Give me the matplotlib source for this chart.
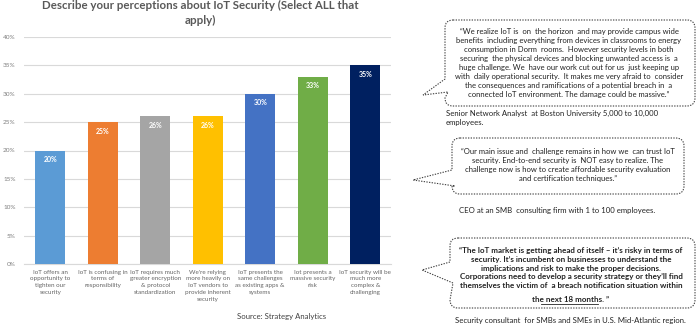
import matplotlib
matplotlib.use("Agg")
import matplotlib.pyplot as plt
from matplotlib.path import Path
from matplotlib.patches import PathPatch

plt.rcParams['font.family'] = ['Lato', 'DejaVu Sans']

# data
categories = [
    "IoT offers an\nopportunity to\ntighten our\nsecurity",
    "IoT is confusing in\nterms of\nresponsibility",
    "IoT requires much\ngreater encryption\n& protocol\nstandardization",
    "We're relying\nmore heavily on\nIoT vendors to\nprovide inherent\nsecurity",
    "IoT presents the\nsame challenges\nas existing apps &\nsystems",
    "Iot presents a\nmassive security\nrisk",
    "IoT security will be\nmuch more\ncomplex &\nchallenging",
]
values = [20, 25, 26, 26, 30, 33, 35]
bar_colors = ["#5B9BD5", "#ED7D31", "#A5A5A5", "#FFC000", "#4472C4", "#70AD47", "#002060"]
yticks = [0, 5, 10, 15, 20, 25, 30, 35, 40]

quotes = [
    "\u201cWe realize IoT is  on  the horizon  and may provide campus wide\n"
    "benefits  including everything from devices in classrooms to energy\n"
    "consumption in Dorm  rooms.  However security levels in both\n"
    "securing  the physical devices and blocking unwanted access is  a\n"
    "huge challenge. We  have our work cut out for us  just keeping up\n"
    "with  daily operational security.  It makes me very afraid to  consider\n"
    "the consequences and ramifications of a potential breach in  a\n"
    "connected IoT environment. The damage could be massive.\u201d",
    "\u201cOur main issue and  challenge remains in how we  can trust IoT\n"
    "security. End-to-end security is  NOT easy to realize. The\n"
    "challenge now is how to create affordable security evaluation\n"
    "and certification techniques.\u201d",
    "\u201cThe IoT market is getting ahead of itself \u2013 it\u2019s risky in terms of\n"
    "security. It\u2019s incumbent on businesses to understand the\n"
    "implications and risk to make the proper decisions.\n"
    "Corporations need to develop a security strategy or they\u2019ll find\n"
    "themselves the victim of  a breach notification situation within",
]
quote3_last = "the next 18 months. \u201d"
captions = [
    "Senior Network Analyst  at Boston University 5,000 to 10,000\nemployees.",
    "CEO at an SMB  consulting firm with 1 to 100 employees.",
    "Security consultant  for SMBs and SMEs in U.S. Mid-Atlantic region.",
]

W, H = 697, 328
fig = plt.figure(figsize=(W / 100, H / 100), dpi=100)

def fx(px):
    return px / W

def fy(py):
    return 1 - py / H

# bar chart
ax = fig.add_axes([fx(24), fy(264), fx(391.5) - fx(24), fy(37) - fy(264)])
x = range(len(values))
bars = ax.bar(x, values, width=0.58, color=bar_colors, zorder=3)
ax.set_xlim(-0.5, len(values) - 0.5)
ax.set_ylim(0, 40)
ax.set_yticks(yticks)
ax.set_yticklabels([f"{v}%" for v in yticks], fontsize=4.6, color="#7F7F7F")
ax.set_xticks(list(x))
ax.set_xticklabels(categories, fontsize=4.5, color="#666666", linespacing=1.45)
ax.tick_params(length=0, pad=4)
ax.tick_params(axis="y", pad=6)
ax.grid(axis="y", color="#D9D9D9", linewidth=0.8, zorder=0)
for s in ["top", "right", "left"]:
    ax.spines[s].set_visible(False)
ax.spines["bottom"].set_color("#D9D9D9")
for b, v in zip(bars, values):
    ax.text(b.get_x() + b.get_width() / 2, v - 1.0, f"{v}%", ha="center", va="top",
            color="white", fontsize=5.0, fontweight="bold")

fig.text(fx(200), fy(13), "Describe your perceptions about IoT Security (Select ALL that\napply)",
         ha="center", va="center", fontsize=8.3, fontweight="bold", color="#595959",
         linespacing=1.45)
fig.text(fx(282), fy(317), "Source: Strategy Analytics", ha="center", va="center",
         fontsize=5.6, color="#404040")

# callout bubbles in pixel coordinates
ov = fig.add_axes([0, 0, 1, 1], zorder=5)
ov.set_xlim(0, W)
ov.set_ylim(H, 0)
ov.axis("off")

def bubble(x0, y0, x1, y1, tip, b1, b2, r=8):
    verts = [(x0 + r, y0), (x1 - r, y0), (x1, y0), (x1, y0 + r), (x1, y1 - r), (x1, y1),
             (x1 - r, y1), (x0 + r, y1), (x0, y1), (x0, y1 - r), b2, tip, b1,
             (x0, y0 + r), (x0, y0), (x0 + r, y0)]
    codes = [Path.MOVETO, Path.LINETO, Path.CURVE3, Path.CURVE3, Path.LINETO, Path.CURVE3,
             Path.CURVE3, Path.LINETO, Path.CURVE3, Path.CURVE3, Path.LINETO, Path.LINETO,
             Path.LINETO, Path.LINETO, Path.CURVE3, Path.CURVE3]
    ov.add_patch(PathPatch(Path(verts, codes), facecolor="white", edgecolor="#404040",
                           linewidth=0.8, linestyle=(0, (1.2, 1.2))))

bubble(445, 20, 695, 106, (423, 95), (445, 79), (448, 92))
bubble(452, 138, 684, 194, (413, 180), (452, 170), (455, 186))
bubble(450, 238, 695, 308, (422, 270), (450, 262), (453, 283))

ov.text(569, 63, quotes[0], ha="center", va="center", fontsize=5.5, color="#222222",
        linespacing=1.33)
ov.text(568, 165, quotes[1], ha="center", va="center", fontsize=5.5, color="#222222",
        linespacing=1.33)
ov.text(571, 268, quotes[2], ha="center", va="center", fontsize=5.8, color="#222222",
        fontweight="bold", linespacing=1.3)
ov.text(571, 300, quote3_last, ha="center", va="center", fontsize=5.8, color="#222222",
        fontweight="bold")
ov.plot([541, 598], [303.5, 303.5], color="#222222", linewidth=0.6)

ov.text(446, 118, captions[0], ha="left", va="center", fontsize=5.6, color="#222222",
        linespacing=1.35)
ov.text(557, 211, captions[1], ha="center", va="center", fontsize=5.6, color="#222222")
ov.text(570, 320, captions[2], ha="center", va="center", fontsize=5.6, color="#222222")

fig.savefig("out.png", dpi=100, facecolor="white")
